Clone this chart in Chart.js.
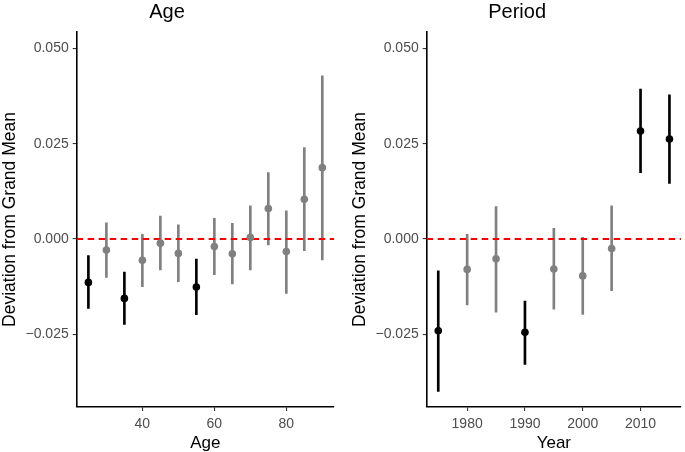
<!DOCTYPE html>
<html><head><meta charset="utf-8">
<script src="https://cdn.jsdelivr.net/npm/chart.js@4"></script>
<style>
html,body{margin:0;padding:0;background:#fff;}
#wrap{position:relative;width:685px;height:452px;overflow:hidden;}
.panel{position:absolute;top:0;height:452px;}
canvas{display:block;}
</style></head><body>
<div id="wrap">
<div class="panel" style="left:0;width:342px"><canvas id="c1" width="342" height="452"></canvas></div>
<div class="panel" style="left:342px;width:343px"><canvas id="c2" width="343" height="452"></canvas></div>
</div>
<script>
// ---- Data ----
const ageCategories = [25, 30, 35, 40, 45, 50, 55, 60, 65, 70, 75, 80, 85, 90];
const ageEstimate = [-0.0114, -0.0029, -0.0156, -0.0056, -0.0011, -0.0038, -0.0126, -0.0020, -0.0039, 0.0004, 0.0080, -0.0033, 0.0104, 0.0187];
const ageLower    = [-0.0182, -0.0101, -0.0224, -0.0125, -0.0081, -0.0112, -0.0199, -0.0094, -0.0118, -0.0081, -0.0016, -0.0143, -0.0031, -0.0055];
const ageUpper    = [-0.0044, 0.0042, -0.0087, 0.0012, 0.0060, 0.0037, -0.0053, 0.0054, 0.0041, 0.0087, 0.0174, 0.0074, 0.0240, 0.0428];
const ageSignificant = [true, false, true, false, false, false, true, false, false, false, false, false, false, false];

const periodCategories = [1975, 1980, 1985, 1990, 1995, 2000, 2005, 2010, 2015];
const periodEstimate = [-0.0241, -0.0080, -0.0052, -0.0245, -0.0079, -0.0097, -0.0025, 0.0283, 0.0262];
const periodLower    = [-0.0400, -0.0173, -0.0192, -0.0329, -0.0184, -0.0198, -0.0136, 0.0174, 0.0146];
const periodUpper    = [-0.0084, 0.0012, 0.0085, -0.0163, 0.0028, 0.0004, 0.0087, 0.0393, 0.0378];
const periodSignificant = [true, false, false, true, false, false, false, true, true];

const yTickValues = [-0.025, 0, 0.025, 0.05];
const ageTickValues = [40, 60, 80];
const periodTickValues = [1980, 1990, 2000, 2010];
const referenceValue = 0;

// ---- Styling ----
const FONT = '"Liberation Sans", Arial, Helvetica, sans-serif';
const SIG_COLOR = '#000000';
const NS_COLOR = '#808080';
const Y_MIN = -0.0441, Y_MAX = 0.0543;

function fmtY(v) {
  const s = Math.abs(v).toFixed(3);
  return (v < -1e-12 ? '\u2212' : '') + s;
}

function makePanel(id, titleText, xTitle, cats, est, lo, hi, sig, xMin, xMax, xTicks, padL, padR) {
  const colors = sig.map(s => s ? SIG_COLOR : NS_COLOR);
  const gridOpts = {drawOnChartArea: false, drawTicks: true, tickLength: 4, color: '#333333', lineWidth: 1.1};
  const borderOpts = {display: true, color: '#000000', width: 1.6};
  new Chart(document.getElementById(id), {
    type: 'scatter',
    data: {
      datasets: [
        {
          type: 'bar',
          data: cats.map((c, i) => ({x: c, y: [lo[i], hi[i]]})),
          backgroundColor: colors,
          borderWidth: 0,
          barThickness: 2,
          grouped: false,
          order: 3
        },
        {
          type: 'line',
          data: [{x: xMin, y: referenceValue}, {x: xMax, y: referenceValue}],
          borderColor: '#FF0000',
          borderWidth: 2,
          borderDash: [6.5, 4.5],
          pointRadius: 0,
          fill: false,
          order: 2
        },
        {
          type: 'scatter',
          data: cats.map((c, i) => ({x: c, y: est[i]})),
          backgroundColor: colors,
          borderWidth: 0,
          pointRadius: 3.8,
          order: 1
        }
      ]
    },
    options: {
      responsive: false,
      animation: false,
      events: [],
      layout: {padding: {left: padL, right: padR, top: 0, bottom: 0}},
      plugins: {
        legend: {display: false},
        tooltip: {enabled: false},
        title: {
          display: true, text: titleText, color: '#000000',
          font: {family: FONT, size: 20, weight: 'normal', lineHeight: 1.2},
          padding: {top: 0, bottom: 8}
        }
      },
      scales: {
        x: {
          type: 'linear', min: xMin, max: xMax, offset: false,
          afterBuildTicks: s => { s.ticks = xTicks.map(v => ({value: v})); },
          afterFit: s => { s.height = 45; },
          ticks: {font: {family: FONT, size: 14}, color: '#4D4D4D', padding: 4.5, maxRotation: 0, autoSkip: false, callback: v => String(v)},
          grid: Object.assign({offset: false}, gridOpts),
          border: borderOpts,
          title: {display: true, text: xTitle, color: '#000000', font: {family: FONT, size: 17, lineHeight: 1.0}, padding: {top: 0, bottom: 0}}
        },
        y: {
          type: 'linear', min: Y_MIN, max: Y_MAX, beginAtZero: false,
          afterBuildTicks: s => { s.ticks = yTickValues.map(v => ({value: v})); },
          afterFit: s => { s.width = 76.7; },
          ticks: {font: {family: FONT, size: 14}, color: '#4D4D4D', padding: 4, callback: v => fmtY(v)},
          grid: gridOpts,
          border: borderOpts,
          title: {display: true, text: 'Deviation from Grand Mean', color: '#000000', font: {family: FONT, size: 17.5, lineHeight: 1.2}, padding: {top: 0, bottom: 0}}
        }
      }
    }
  });
}

makePanel('c1', 'Age', 'Age', ageCategories, ageEstimate, ageLower, ageUpper, ageSignificant, 21.75, 93.25, ageTickValues, 0, 8);
makePanel('c2', 'Period', 'Year', periodCategories, periodEstimate, periodLower, periodUpper, periodSignificant, 1973, 2017, periodTickValues, 8, 0.7);
</script>
</body></html>
